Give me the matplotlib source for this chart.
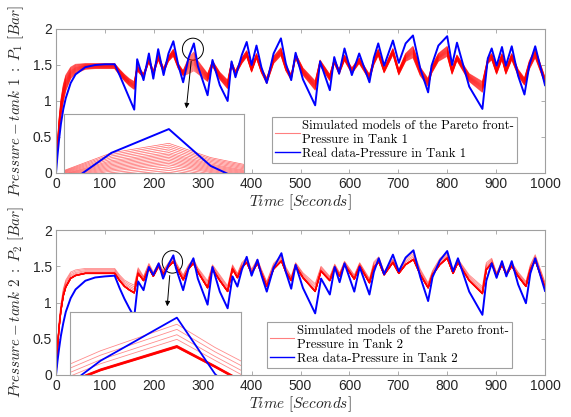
import matplotlib
matplotlib.use("Agg")
import matplotlib.pyplot as plt
import numpy as np
from matplotlib.patches import Ellipse
from matplotlib.font_manager import FontProperties

plt.rcParams["mathtext.fontset"] = "cm"
plt.rcParams["font.family"] = ["Liberation Sans", "DejaVu Sans"]

# ---------------- Tank 1 ----------------
t1 = [0, 3, 6, 10, 15, 20, 30, 40, 60, 80, 100, 120, 130, 140, 150, 160,
      166, 179, 190, 199, 209, 220, 230, 240, 250, 260, 271, 282, 290, 310,
      320, 335, 351, 359, 367, 380, 390, 400, 410, 420, 431, 445, 460, 470,
      481, 490, 505, 530, 540, 560, 569, 579, 590, 605, 620, 641, 650, 659,
      671, 689, 701, 715, 730, 745, 761, 768, 782, 800, 810, 820, 845, 872,
      883, 891, 901, 912, 920, 932, 945, 958, 968, 980, 1000]
p1_real = [0, 0.24, 0.45, 0.68, 0.89, 1.04, 1.25, 1.37, 1.47, 1.50, 1.51, 1.51, 1.36, 1.20, 1.04, 0.88,
           1.58, 1.29, 1.66, 1.31, 1.72, 1.36, 1.66, 1.83, 1.50, 1.26, 1.60, 1.80, 1.49, 1.08,
           1.57, 1.22, 1.00, 1.55, 1.33, 1.64, 1.82, 1.50, 1.77, 1.47, 1.25, 1.66, 1.87, 1.52,
           1.29, 1.67, 1.30, 0.94, 1.55, 1.15, 1.61, 1.38, 1.73, 1.36, 1.66, 1.26, 1.60, 1.80,
           1.49, 1.84, 1.53, 1.80, 1.91, 1.45, 1.12, 1.49, 1.77, 1.90, 1.50, 1.81, 1.20, 0.89,
           1.59, 1.73, 1.49, 1.75, 1.49, 1.76, 1.35, 1.09, 1.50, 1.76, 1.22]
p1_model_hi = [0, 0.43, 0.74, 1.02, 1.23, 1.36, 1.47, 1.51, 1.52, 1.52, 1.52, 1.52, 1.44, 1.37, 1.31, 1.27,
               1.50, 1.38, 1.60, 1.42, 1.65, 1.46, 1.62, 1.72, 1.52, 1.42, 1.60, 1.68, 1.56, 1.38,
               1.56, 1.40, 1.29, 1.55, 1.42, 1.60, 1.70, 1.47, 1.66, 1.46, 1.32, 1.62, 1.74, 1.50,
               1.37, 1.66, 1.46, 1.28, 1.57, 1.37, 1.59, 1.44, 1.64, 1.46, 1.60, 1.37, 1.60, 1.72,
               1.46, 1.73, 1.44, 1.66, 1.76, 1.47, 1.31, 1.48, 1.66, 1.76, 1.46, 1.64, 1.38, 1.27,
               1.60, 1.66, 1.46, 1.66, 1.46, 1.66, 1.44, 1.32, 1.56, 1.73, 1.33]
p1_model_lo = [0, 0.30, 0.54, 0.78, 0.99, 1.14, 1.31, 1.38, 1.44, 1.45, 1.45, 1.45, 1.36, 1.28, 1.21, 1.16,
               1.42, 1.32, 1.54, 1.35, 1.57, 1.39, 1.55, 1.62, 1.45, 1.35, 1.38, 1.42, 1.38, 1.27,
               1.48, 1.30, 1.17, 1.48, 1.36, 1.52, 1.61, 1.40, 1.59, 1.39, 1.24, 1.52, 1.63, 1.42,
               1.29, 1.59, 1.36, 1.15, 1.49, 1.28, 1.52, 1.37, 1.56, 1.38, 1.52, 1.29, 1.50, 1.63,
               1.39, 1.64, 1.36, 1.55, 1.60, 1.35, 1.20, 1.38, 1.55, 1.62, 1.37, 1.56, 1.27, 1.12,
               1.52, 1.57, 1.37, 1.57, 1.37, 1.57, 1.35, 1.22, 1.44, 1.60, 1.24]
# position of each Pareto model inside the band (0 = lowest, 1 = highest)
p1_model_mix = [0.0, 0.06, 0.12, 0.18, 0.24, 0.3, 0.35, 0.4, 0.45, 0.5, 0.55,
                0.6, 0.65, 0.7, 0.76, 0.82, 0.88, 0.94, 1.0]

# ---------------- Tank 2 ----------------
t2 = [0, 3, 6, 10, 15, 20, 30, 40, 60, 80, 100, 120, 130, 140, 150, 160,
      168, 179, 190, 199, 210, 219, 230, 240, 245, 260, 271, 281, 290, 310,
      320, 335, 351, 361, 371, 380, 390, 400, 412, 420, 431, 445, 461, 470,
      481, 490, 505, 530, 542, 560, 570, 580, 590, 610, 621, 641, 650, 660,
      671, 689, 701, 715, 731, 745, 761, 770, 785, 800, 812, 822, 845, 872,
      880, 891, 901, 912, 921, 932, 945, 961, 970, 980, 1000]
p2_real = [0, 0.19, 0.35, 0.54, 0.72, 0.87, 1.06, 1.18, 1.30, 1.345, 1.36, 1.37, 1.20, 1.05, 0.92, 0.80,
           1.29, 1.17, 1.49, 1.38, 1.54, 1.33, 1.52, 1.65, 1.48, 1.17, 1.47, 1.61, 1.33, 0.97,
           1.49, 1.15, 0.92, 1.36, 1.22, 1.45, 1.63, 1.37, 1.59, 1.38, 1.15, 1.48, 1.68, 1.42,
           1.19, 1.52, 1.20, 0.85, 1.33, 1.11, 1.49, 1.28, 1.54, 1.15, 1.49, 1.11, 1.42, 1.61,
           1.39, 1.66, 1.43, 1.62, 1.72, 1.35, 1.02, 1.35, 1.58, 1.71, 1.43, 1.61, 1.15, 0.83,
           1.30, 1.54, 1.34, 1.57, 1.36, 1.57, 1.25, 0.99, 1.40, 1.61, 1.16]
p2_model_lo = [0, 0.36, 0.63, 0.88, 1.09, 1.21, 1.33, 1.37, 1.40, 1.40, 1.40, 1.40, 1.30, 1.22, 1.17, 1.13,
               1.40, 1.30, 1.47, 1.36, 1.50, 1.39, 1.49, 1.56, 1.50, 1.31, 1.46, 1.54, 1.42, 1.20,
               1.46, 1.30, 1.15, 1.46, 1.34, 1.48, 1.55, 1.40, 1.54, 1.40, 1.22, 1.46, 1.57, 1.42,
               1.30, 1.50, 1.34, 1.15, 1.43, 1.30, 1.48, 1.36, 1.52, 1.32, 1.50, 1.27, 1.48, 1.56,
               1.38, 1.55, 1.40, 1.52, 1.59, 1.38, 1.20, 1.38, 1.52, 1.61, 1.40, 1.55, 1.30, 1.12,
               1.45, 1.54, 1.36, 1.52, 1.38, 1.50, 1.36, 1.22, 1.45, 1.58, 1.20]
p2_model_hi = [0, 0.42, 0.72, 0.98, 1.19, 1.31, 1.42, 1.45, 1.47, 1.47, 1.47, 1.47, 1.38, 1.31, 1.27, 1.24,
               1.48, 1.36, 1.54, 1.42, 1.55, 1.44, 1.55, 1.63, 1.56, 1.38, 1.52, 1.60, 1.48, 1.30,
               1.52, 1.38, 1.23, 1.52, 1.40, 1.55, 1.62, 1.46, 1.60, 1.46, 1.29, 1.54, 1.65, 1.49,
               1.36, 1.55, 1.41, 1.26, 1.50, 1.36, 1.53, 1.41, 1.57, 1.38, 1.55, 1.33, 1.56, 1.63,
               1.43, 1.60, 1.45, 1.62, 1.70, 1.46, 1.27, 1.44, 1.61, 1.68, 1.45, 1.60, 1.38, 1.22,
               1.55, 1.61, 1.41, 1.57, 1.42, 1.55, 1.42, 1.29, 1.52, 1.66, 1.28]
p2_model_mix_dense = [0.0, 0.015, 0.03, 0.045, 0.06, 0.08]
p2_model_mix_light = [0.35, 0.55, 0.78, 1.0]

x_ticks = [0, 100, 200, 300, 400, 500, 600, 700, 800, 900, 1000]
y_ticks = [0, 0.5, 1, 1.5, 2]
y_tick_labels = ["0", "0.5", "1", "1.5", "2"]

legend_sim_1 = "Simulated models of the Pareto front-\nPressure in Tank 1"
legend_real_1 = "Real data-Pressure in Tank 1"
legend_sim_2 = "Simulated models of the Pareto front-\nPressure in Tank 2"
legend_real_2 = "Rea data-Pressure in Tank 2"

RED = "#ff0000"
BLUE = "#0000ff"
FRAME = "#a0a0a0"
TXT = "#262626"

fig = plt.figure(figsize=(5.71, 4.17), dpi=100)
W, H = 571.0, 417.0
ax1 = fig.add_axes([56 / W, 1 - 173 / H, 489 / W, 144 / H])
ax2 = fig.add_axes([56 / W, 1 - 375 / H, 489 / W, 145 / H])


def blend(lo, hi, w):
    lo = np.asarray(lo)
    hi = np.asarray(hi)
    return lo + w * (hi - lo)


def draw_tank1(ax, lw_model=0.6, alpha_model=0.55, lw_real=1.4):
    for w in p1_model_mix:
        ax.plot(t1, blend(p1_model_lo, p1_model_hi, w), color=RED, lw=lw_model, alpha=alpha_model)
    ax.plot(t1, p1_real, color=BLUE, lw=lw_real)


def draw_tank2(ax, lw_model=0.6, lw_real=1.4):
    for w in p2_model_mix_light:
        ax.plot(t2, blend(p2_model_lo, p2_model_hi, w), color=RED, lw=lw_model, alpha=0.45)
    for w in p2_model_mix_dense:
        ax.plot(t2, blend(p2_model_lo, p2_model_hi, w), color=RED, lw=lw_model + 0.3, alpha=0.9)
    ax.plot(t2, p2_real, color=BLUE, lw=lw_real)


def style_main(ax, ylabel):
    ax.set_xlim(0, 1000)
    ax.set_ylim(0, 2)
    ax.set_xticks(x_ticks)
    ax.set_yticks(y_ticks)
    ax.set_yticklabels(y_tick_labels)
    ax.tick_params(direction="in", top=True, right=True, length=3, width=0.6,
                   color=FRAME, labelcolor=TXT, labelsize=10, pad=3)
    for s in ax.spines.values():
        s.set_color(FRAME)
        s.set_linewidth(0.8)
    ax.set_xlabel(r"$Time\ [Seconds]$", fontsize=11, color=TXT, labelpad=1)
    ax.set_ylabel(ylabel, fontsize=10.8, color=TXT, labelpad=5)


def style_inset(ins, xlim, ylim):
    ins.set_xlim(*xlim)
    ins.set_ylim(*ylim)
    ins.set_xticks([])
    ins.set_yticks([])
    for s in ins.spines.values():
        s.set_color(FRAME)
        s.set_linewidth(0.8)


leg_font = FontProperties(family="cmr10", size=9.2)

# ---- top panel ----
draw_tank1(ax1)
style_main(ax1, r"$Pressure - tank\ 1\ :\ P_1\ [Bar]$")
ax1.add_patch(Ellipse((280, 1.72), 43, 0.305, fill=False, ec="k", lw=0.7))
ax1.annotate("", xy=(266, 0.86), xytext=(277, 1.59),
             arrowprops=dict(arrowstyle="-|>", color="k", lw=0.7, mutation_scale=7))
ins1 = ax1.inset_axes([8 / 489, 0, 180 / 489, 59 / 144])
draw_tank1(ins1, lw_model=0.5, alpha_model=0.6, lw_real=1.4)
style_inset(ins1, (261.9, 296.4), (1.43, 1.927))
h_sim1, = ax1.plot([], [], color=RED, lw=0.8, alpha=0.5)
h_real1, = ax1.plot([], [], color=BLUE, lw=1.0)
leg1 = ax1.legend([h_sim1, h_real1], [legend_sim_1, legend_real_1], loc="lower left",
                  bbox_to_anchor=(0.442, 0.069), borderaxespad=0, prop=leg_font,
                  frameon=True, fancybox=False, framealpha=1, edgecolor=FRAME,
                  handlelength=1.9, handletextpad=0.2, borderpad=0.25, labelspacing=0.15)
leg1.get_frame().set_linewidth(0.8)
leg1.set_zorder(10)

# ---- bottom panel ----
draw_tank2(ax2)
style_main(ax2, r"$Pressure - tank\ 2\ :\ P_2\ [Bar]$")
ax2.add_patch(Ellipse((238, 1.56), 41.7, 0.31, fill=False, ec="k", lw=0.7))
ax2.annotate("", xy=(227, 0.91), xytext=(233, 1.41),
             arrowprops=dict(arrowstyle="-|>", color="k", lw=0.7, mutation_scale=7))
ins2 = ax2.inset_axes([14 / 489, 0, 171 / 489, 63 / 145])
draw_tank2(ins2, lw_model=0.6, lw_real=1.3)
style_inset(ins2, (226.0, 248.4), (1.477, 1.667))
h_sim2, = ax2.plot([], [], color=RED, lw=0.8, alpha=0.5)
h_real2, = ax2.plot([], [], color=BLUE, lw=1.0)
leg2 = ax2.legend([h_sim2, h_real2], [legend_sim_2, legend_real_2], loc="lower left",
                  bbox_to_anchor=(0.431, 0.048), borderaxespad=0, prop=leg_font,
                  frameon=True, fancybox=False, framealpha=1, edgecolor=FRAME,
                  handlelength=1.9, handletextpad=0.2, borderpad=0.25, labelspacing=0.15)
leg2.get_frame().set_linewidth(0.8)
leg2.set_zorder(10)

fig.savefig("out.png", dpi=100, facecolor="white")
